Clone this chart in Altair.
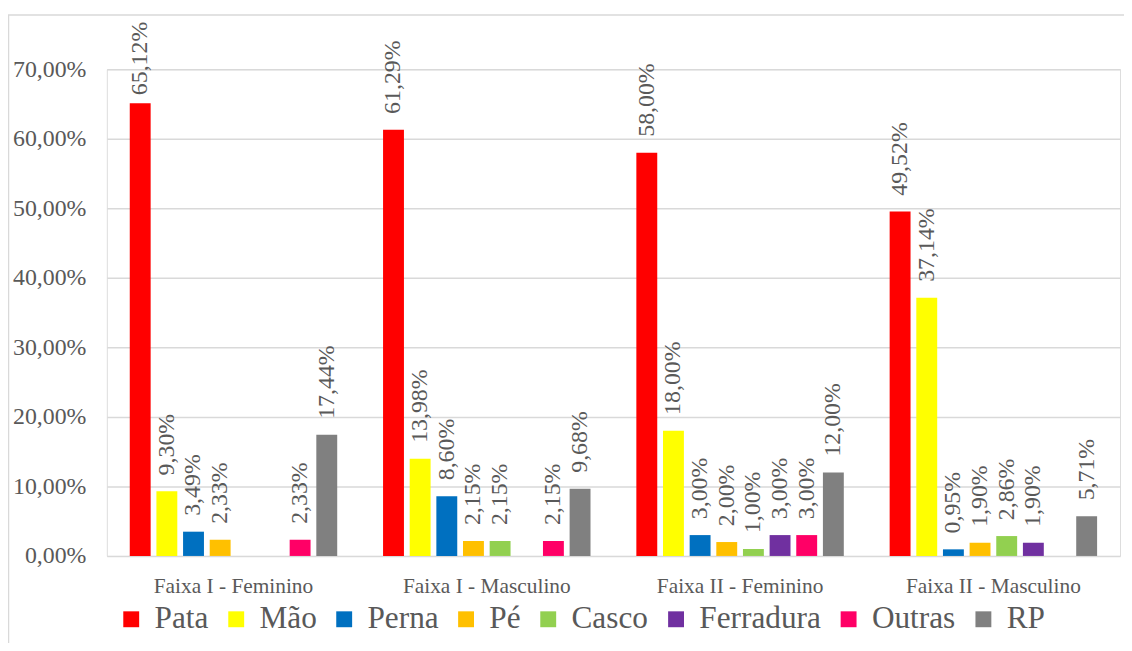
import altair as alt
import pandas as pd

groups = ["Faixa I - Feminino", "Faixa I - Masculino", "Faixa II - Feminino", "Faixa II - Masculino"]
series = ["Pata", "Mão", "Perna", "Pé", "Casco", "Ferradura", "Outras", "RP"]
colors = ["#FF0000", "#FFFF00", "#0070C0", "#FFC000", "#92D050", "#7030A0", "#FF0066", "#808080"]

pata = [65.12, 61.29, 58.00, 49.52]
mao = [9.30, 13.98, 18.00, 37.14]
perna = [3.49, 8.60, 3.00, 0.95]
pe = [2.33, 2.15, 2.00, 1.90]
casco = [0.0, 2.15, 1.00, 2.86]
ferradura = [0.0, 0.0, 3.00, 1.90]
outras = [2.33, 2.15, 3.00, 0.0]
rp = [17.44, 9.68, 12.00, 5.71]

y_ticks = [0.0, 0.1, 0.2, 0.3, 0.4, 0.5, 0.6, 0.7]

values_by_series = [pata, mao, perna, pe, casco, ferradura, outras, rp]
rows = []
for s, vals in zip(series, values_by_series):
    for g, v in zip(groups, vals):
        rows.append({"group": g, "series": s, "value": v / 100.0})
df = pd.DataFrame(rows)

FONT = "Liberation Serif"
GRAY = "#595959"

x_enc = alt.X("group:N", sort=groups,
              scale=alt.Scale(paddingInner=0, paddingOuter=0),
              axis=alt.Axis(title=None, labelAngle=0, labelFont=FONT, labelFontSize=21.5,
                            labelColor=GRAY, ticks=False, tickSize=0, domain=False,
                            labelPadding=20, labelBaseline="top"))
xo_enc = alt.XOffset("series:N", sort=series,
                     scale=alt.Scale(paddingInner=0.216, paddingOuter=0.86))
y_scale = alt.Scale(domain=[0, 0.7], nice=False, zero=True)

bars = alt.Chart(df).mark_bar().encode(
    x=x_enc,
    xOffset=xo_enc,
    y=alt.Y("value:Q", scale=y_scale,
            axis=alt.Axis(title=None, values=y_ticks, labelFont=FONT, labelFontSize=24,
                          labelColor=GRAY, ticks=False, domain=False, labelPadding=21,
                          gridColor="#D9D9D9", gridWidth=1.5,
                          labelExpr="replace(format(datum.value, '.2%'), '.', ',')")),
    color=alt.Color("series:N", sort=series,
                    scale=alt.Scale(domain=series, range=colors),
                    legend=alt.Legend(title=None, orient="none", direction="horizontal",
                                      gridAlign="none",
                                      legendX=8.8, legendY=538,
                                      symbolType="square", symbolSize=256,
                                      symbolStrokeWidth=0, symbolOpacity=1,
                                      labelFont=FONT, labelFontSize=31.5, labelColor=GRAY,
                                      labelOffset=7.7, columnPadding=11.7, padding=0,
                                      labelLimit=400)),
)

labels = alt.Chart(df).transform_filter(
    "datum.value > 0"
).transform_calculate(
    lab="min(datum.value, 0.6398)",
    txt="replace(format(datum.value, '.2%'), '.', ',')"
).mark_text(angle=270, align="left", baseline="middle", dx=16,
            font=FONT, fontSize=24, color=GRAY).encode(
    x=alt.X("group:N", sort=groups),
    xOffset=alt.XOffset("series:N", sort=series),
    y=alt.Y("lab:Q", scale=y_scale),
    text="txt:N",
)

frame = alt.Chart(pd.DataFrame({"k": [0]})).mark_rect(
    fill=None, stroke="#D9D9D9", strokeWidth=1.5
).encode(
    x=alt.value(-99), x2=alt.value(1200),
    y=alt.value(-54.5), y2=alt.value(800),
)

chart = alt.layer(frame, bars, labels).properties(
    width=1020, height=490,
    padding={"left": 99.5, "top": 59.5, "right": 4, "bottom": 85},
    autosize=alt.AutoSizeParams(type="none"),
    title=alt.TitleParams("na Região Sudeste", font=FONT, fontSize=30, fontWeight="normal",
                          color="black", anchor="middle", frame="group",
                          baseline="alphabetic", offset=55, dx=-38.5),
).configure_view(stroke=None).configure(background="white")

chart.save("out.html", embed_options={"renderer": "svg", "actions": False})
